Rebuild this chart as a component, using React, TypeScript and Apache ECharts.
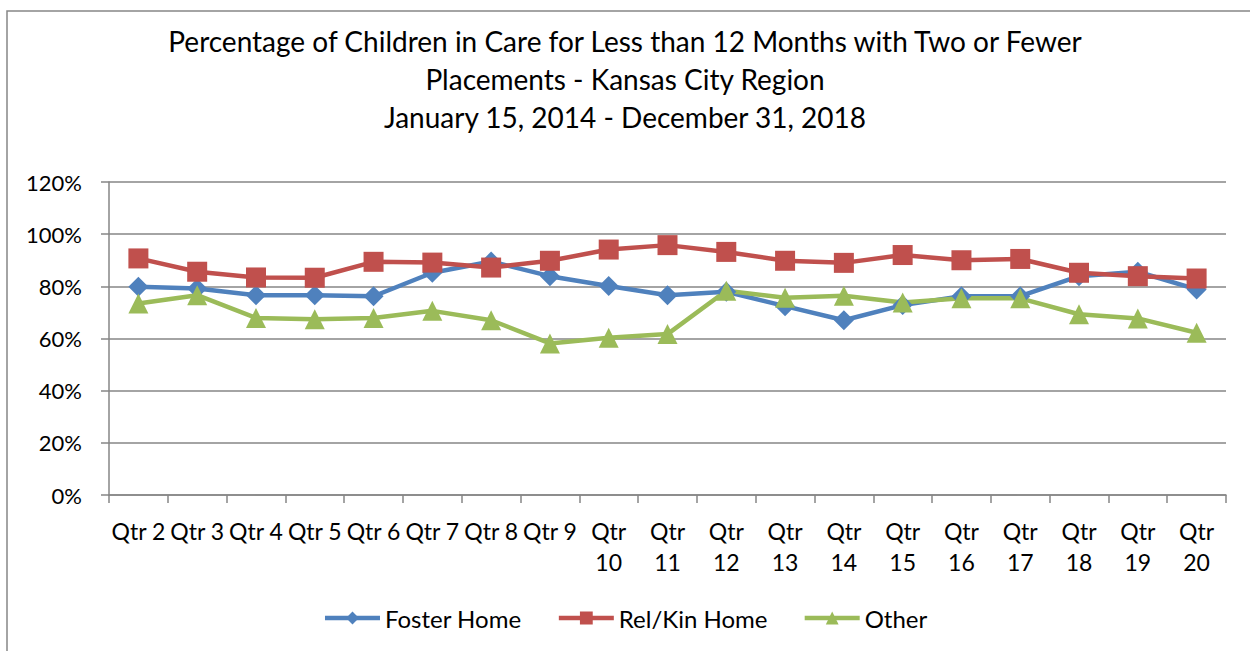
import React, { useEffect, useRef } from "react";
import * as echarts from "echarts";

const categories = [
  "Qtr 2", "Qtr 3", "Qtr 4", "Qtr 5", "Qtr 6", "Qtr 7", "Qtr 8", "Qtr 9", "Qtr 10",
  "Qtr 11", "Qtr 12", "Qtr 13", "Qtr 14", "Qtr 15", "Qtr 16", "Qtr 17", "Qtr 18", "Qtr 19", "Qtr 20",
];
const fosterHome = [79.8, 79.2, 76.6, 76.6, 76.2, 85.2, 89.5, 83.9, 80.1, 76.6, 77.9, 72.4, 67.0, 72.8, 76.2, 76.2, 83.9, 85.6, 78.8];
const relKinHome = [90.7, 85.6, 83.4, 83.3, 89.4, 89.1, 87.2, 89.8, 94.1, 95.8, 93.2, 89.8, 89.0, 92.0, 90.0, 90.5, 85.2, 83.9, 83.0];
const other = [73.4, 76.6, 67.9, 67.4, 67.9, 70.6, 67.0, 58.1, 60.3, 61.7, 78.3, 75.6, 76.4, 73.8, 75.4, 75.4, 69.3, 67.7, 62.2];
const yTicks = { min: 0, max: 120, interval: 20 };

const FONT = "Lato, 'Open Sans', sans-serif";

export default function App() {
  const ref = useRef<HTMLDivElement>(null);
  useEffect(() => {
    if (!ref.current) return;
    const chart = echarts.init(ref.current, null, { renderer: "svg" });
    const mk = (name: string, data: number[], color: string, symbol: string, size: any) => ({
      name,
      type: "line",
      data,
      symbol,
      symbolSize: size,
      itemStyle: { color },
      lineStyle: { color, width: 4.5 },
    });
    chart.setOption({
      animation: false,
      backgroundColor: "#ffffff",
      textStyle: { fontFamily: FONT },
      title: {
        text: "Percentage of Children in Care for Less than 12 Months with Two or Fewer\nPlacements - Kansas City Region\nJanuary 15, 2014 - December 31, 2018",
        left: "center",
        top: 17,
        textStyle: { fontFamily: FONT, fontSize: 28, fontWeight: "normal", color: "#000", lineHeight: 38 },
      },
      graphic: [
        {
          type: "rect",
          shape: { x: 7, y: 11, width: 1300, height: 700 },
          style: { fill: "none", stroke: "#868686", lineWidth: 1.5 },
          silent: true,
        },
      ],
      legend: {
        bottom: 16,
        left: "center",
        itemWidth: 55,
        itemHeight: 16,
        itemGap: 35,
        lineStyle: { width: 4.5 },
        textStyle: { fontFamily: FONT, fontSize: 24, color: "#000" },
        data: ["Foster Home", "Rel/Kin Home", "Other"],
      },
      grid: { left: 109, right: 24, top: 182, bottom: 156 },
      xAxis: {
        type: "category",
        data: categories,
        boundaryGap: true,
        axisLine: { lineStyle: { color: "#868686", width: 1.5 } },
        axisTick: { show: true, length: 8, lineStyle: { color: "#868686", width: 1.5 } },
        axisLabel: {
          interval: 0,
          fontFamily: FONT,
          fontSize: 23,
          color: "#000",
          margin: 20,
          lineHeight: 31,
          formatter: (v: string) => (v.length > 5 ? v.replace(" ", "\n") : v),
        },
      },
      yAxis: {
        type: "value",
        min: yTicks.min,
        max: yTicks.max,
        interval: yTicks.interval,
        axisLine: { show: true, lineStyle: { color: "#868686", width: 1.5 } },
        axisTick: { show: true, length: 8, lineStyle: { color: "#868686", width: 1.5 } },
        splitLine: { lineStyle: { color: "#868686", width: 1.5 } },
        axisLabel: {
          fontFamily: FONT,
          fontSize: 22,
          color: "#000",
          margin: 27,
          formatter: (v: number) => v + "%",
        },
      },
      series: [
        mk("Foster Home", fosterHome, "#4F81BD", "diamond", [20, 20]),
        mk("Rel/Kin Home", relKinHome, "#C0504D", "rect", 20),
        mk("Other", other, "#9BBB59", "triangle", 20),
      ],
    });
    return () => chart.dispose();
  }, []);
  return <div ref={ref} style={{ position: "fixed", left: 0, top: 0, width: 1250, height: 651 }} />;
}
